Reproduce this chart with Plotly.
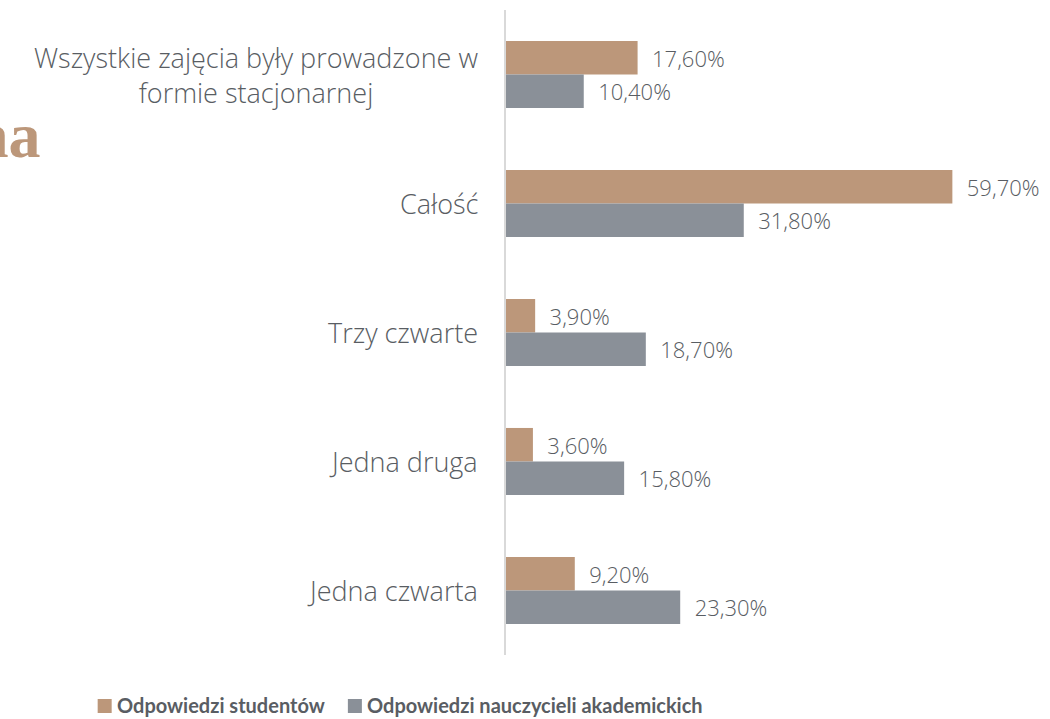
import plotly.graph_objects as go

categories = [
    "Wszystkie zajęcia były prowadzone w<br>formie stacjonarnej",
    "Całość",
    "Trzy czwarte",
    "Jedna druga",
    "Jedna czwarta",
]
students = [17.6, 59.7, 3.9, 3.6, 9.2]
teachers = [10.4, 31.8, 18.7, 15.8, 23.3]
series_names = ["Odpowiedzi studentów", "Odpowiedzi nauczycieli akademickich"]

TAN = "#BC977A"
GREY = "#8A9098"
TEXT = "#595D63"
LABEL_FONT = dict(family="Open Sans", size=27, color=TEXT, weight=300)

PLOT_L, PLOT_W, PLOT_H = 506, 485.6, 645


def pct(v):
    return "  " + f"{v:.2f}".replace(".", ",") + "%"


def px_x(x):
    return (x - PLOT_L) / PLOT_W


def px_y(y):
    return (655 - y) / PLOT_H


fig = go.Figure()
for name, vals, col in [(series_names[0], students, TAN), (series_names[1], teachers, GREY)]:
    fig.add_trace(go.Bar(
        y=categories, x=vals, name=name, orientation="h",
        marker=dict(color=col, line=dict(width=0)),
        text=[pct(v) for v in vals], textposition="outside",
        textfont=dict(family="Open Sans", size=22, color=TEXT, weight=300),
        constraintext="none", cliponaxis=False, showlegend=False,
    ))

# category labels, each line centred
for c in categories:
    fig.add_annotation(
        x=0, xref="paper", xanchor="right", xshift=-26,
        y=c, yref="y", yanchor="middle",
        text=c, align="center", showarrow=False,
        font=LABEL_FONT,
    )

# heading fragment at the left edge
fig.add_annotation(
    xref="paper", yref="paper", x=px_x(43), y=px_y(135),
    xanchor="right", yanchor="middle", showarrow=False,
    text="<b>na</b>", font=dict(family="Liberation Serif", size=64, color=TAN),
)

# legend at the bottom: swatch + bold name
legend_x = [98, 348]
for x0, name, col in zip(legend_x, series_names, [TAN, GREY]):
    fig.add_shape(type="rect", xref="paper", yref="paper",
                  x0=px_x(x0), x1=px_x(x0 + 14),
                  y0=px_y(699), y1=px_y(713),
                  fillcolor=col, line=dict(width=0))
    fig.add_annotation(xref="paper", yref="paper",
                       x=px_x(x0 + 17), y=px_y(705),
                       xanchor="left", yanchor="middle", showarrow=False,
                       text=f"<b>{name}</b>",
                       font=dict(family="Lato", size=20, color=TEXT))

fig.update_layout(
    width=1050, height=719,
    margin=dict(l=PLOT_L, r=1050 - PLOT_L - PLOT_W, t=10, b=64, autoexpand=False),
    paper_bgcolor="white", plot_bgcolor="white",
    barmode="group", bargap=0.48, bargroupgap=0,
    xaxis=dict(range=[0, 65], showgrid=False, zeroline=False, showticklabels=False,
               showline=False),
    yaxis=dict(autorange="reversed", showticklabels=False, showgrid=False,
               showline=True, linecolor="#D9D9D9", linewidth=1.5, ticks=""),
    showlegend=False,
)

fig.write_html("out.html")
